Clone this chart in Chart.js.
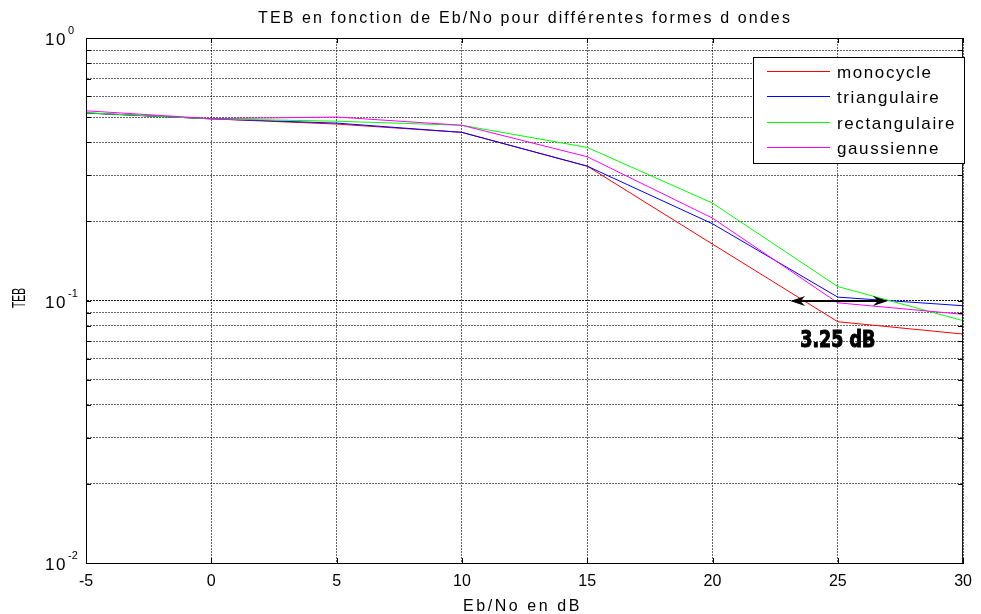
<!DOCTYPE html>
<html>
<head>
<meta charset="utf-8">
<script src="https://cdn.jsdelivr.net/npm/chart.js@4.4.1/dist/chart.umd.min.js"></script>
<style>
  html, body { margin: 0; padding: 0; background: #fff; }
  #wrap { width: 981px; height: 614px; }
</style>
</head>
<body>
<div id="wrap"><canvas id="myChart" width="981" height="614"></canvas></div>
<script>
var chart_title = 'TEB en fonction de Eb/No pour différentes formes d ondes'
var x_title = 'Eb/No en dB'
var y_title = 'TEB'

// Eb/No (dB) and TEB values
var ebno = [-5, 0, 5, 10, 15, 20, 25, 30]
var monocycle = [0.518, 0.492, 0.470, 0.437, 0.325, 0.164, 0.083, 0.0745]
var triangulaire = [0.518, 0.492, 0.474, 0.437, 0.325, 0.196, 0.103, 0.0955]
var rectangulaire = [0.519, 0.492, 0.482, 0.465, 0.383, 0.235, 0.113, 0.0838]
var gaussienne = [0.528, 0.493, 0.500, 0.465, 0.353, 0.206, 0.098, 0.0886]

var series_names = ['monocycle', 'triangulaire', 'rectangulaire', 'gaussienne']
var series_values = [monocycle, triangulaire, rectangulaire, gaussienne]
var series_colors = ['#ff0000', '#0000ff', '#00ff00', '#ff00ff']

var x_ticks = [-5, 0, 5, 10, 15, 20, 25, 30]
var y_grid = [0.01, 0.02, 0.03, 0.04, 0.05, 0.06, 0.07, 0.08, 0.09,
              0.1, 0.2, 0.3, 0.4, 0.5, 0.6, 0.7, 0.8, 0.9, 1]
var y_labels = [1, 0.1, 0.01]
var y_exponents = ['0', '-1', '-2']

// double arrow + note
var arrow_from = 23.1
var arrow_to = 27.0
var arrow_y = 0.1
var note_text = '3.25 dB'
var note_x = 25.0
var note_y = 0.0702

function isDecade(v){
    var l = Math.log10(v)
    return Math.abs(l - Math.round(l)) < 1e-6
}

// draw text, stretched to a given width with letter spacing (or scale)
function fitText(ctx, str, x, y, font, width, align, squeeze){
    ctx.save()
    ctx.font = font
    ctx.textAlign = align || 'left'
    if ('letterSpacing' in ctx) ctx.letterSpacing = '0px'
    var w0 = ctx.measureText(str).width
    if (!squeeze && ('letterSpacing' in ctx) && width > w0) {
        ctx.letterSpacing = ((width - w0) / str.length) + 'px'
        ctx.fillText(str, x, y)
    } else {
        ctx.translate(x, y)
        ctx.scale(width / w0, 1)
        ctx.fillText(str, 0, 0)
        if (squeeze === 'heavy') {
            ctx.lineWidth = 1
            ctx.strokeText(str, 0, 0)
        }
    }
    ctx.restore()
}

function arrowHead(ctx, x, y, dir){
    ctx.beginPath()
    ctx.moveTo(x, y)
    ctx.lineTo(x + dir * 15, y - 5)
    ctx.lineTo(x + dir * 10, y)
    ctx.lineTo(x + dir * 15, y + 5)
    ctx.closePath()
    ctx.fill()
}

var decorPlugin = {
    id: 'decor',
    afterDraw: function(chart){
        var ctx = chart.ctx
        var a = chart.chartArea
        var xs = chart.scales.x
        var ys = chart.scales.y
        ctx.save()
        ctx.fillStyle = '#000'
        ctx.strokeStyle = '#000'
        ctx.lineWidth = 1

        // box
        ctx.strokeRect(a.left + 0.5, a.top + 0.5, a.right - a.left - 1, a.bottom - a.top)

        // inward tick marks
        ctx.beginPath()
        for (var i = 0; i < y_grid.length; i++) {
            var py = Math.round(ys.getPixelForValue(y_grid[i])) + 0.5
            ctx.moveTo(a.left, py); ctx.lineTo(a.left + 5, py)
            ctx.moveTo(a.right, py); ctx.lineTo(a.right - 5, py)
        }
        for (var j = 0; j < x_ticks.length; j++) {
            var px = Math.round(xs.getPixelForValue(x_ticks[j])) + 0.5
            ctx.moveTo(px, a.bottom); ctx.lineTo(px, a.bottom - 5)
            ctx.moveTo(px, a.top); ctx.lineTo(px, a.top + 5)
        }
        ctx.stroke()

        // title and axis titles
        ctx.textBaseline = 'alphabetic'
        fitText(ctx, chart_title, 258, 23, '16px "Liberation Sans", Arial', 534, 'left')
        fitText(ctx, x_title, 463, 611, '16px "Liberation Sans", Arial', 119, 'left')
        ctx.save()
        ctx.translate(25, 298)
        ctx.rotate(-Math.PI / 2)
        fitText(ctx, y_title, 0, 0, '18px "Liberation Sans", Arial', 20, 'center', true)
        ctx.restore()

        // y tick labels 10^n
        for (var k = 0; k < y_labels.length; k++) {
            var ly = ys.getPixelForValue(y_labels[k])
            fitText(ctx, '10', 67, ly + 7, '17px "Liberation Sans", Arial', 22, 'right')
            ctx.font = '11px "Liberation Sans", Arial'
            ctx.textAlign = 'left'
            ctx.fillText(y_exponents[k], 68, ly - 4)
        }

        // legend
        var lx = 753, lt = 57, lw = 211, lh = 106
        ctx.fillStyle = '#fff'
        ctx.fillRect(lx, lt, lw, lh)
        ctx.strokeStyle = '#000'
        ctx.strokeRect(lx + 0.5, lt + 0.5, lw, lh)
        for (var s = 0; s < series_names.length; s++) {
            var ry = Math.round(71 + s * 25.3)
            ctx.fillStyle = series_colors[s]
            ctx.fillRect(767, ry, 63, 1)
            ctx.fillStyle = '#000'
            ctx.save()
            ctx.font = '17px "Liberation Sans", Arial'
            if ('letterSpacing' in ctx) ctx.letterSpacing = '1.6px'
            ctx.textAlign = 'left'
            ctx.fillText(series_names[s], 837, ry + 7)
            ctx.restore()
        }

        // double arrow
        var ax1 = xs.getPixelForValue(arrow_from)
        var ax2 = xs.getPixelForValue(arrow_to)
        var ay = Math.round(ys.getPixelForValue(arrow_y))
        ctx.fillStyle = '#000'
        ctx.strokeStyle = '#000'
        ctx.lineWidth = 2
        ctx.beginPath()
        ctx.moveTo(ax1 + 8, ay); ctx.lineTo(ax2 - 8, ay)
        ctx.stroke()
        arrowHead(ctx, ax1, ay, 1)
        arrowHead(ctx, ax2, ay, -1)

        // note
        var nx = xs.getPixelForValue(note_x)
        var ny = ys.getPixelForValue(note_y)
        ctx.textBaseline = 'middle'
        fitText(ctx, note_text, nx, ny, 'bold 23px "Liberation Sans Narrow", "DejaVu Sans Condensed", "Liberation Sans"', 75, 'center', 'heavy')
        ctx.restore()
    }
}

var datasets = []
for (var i = 0; i < series_names.length; i++) {
    var pts = []
    for (var j = 0; j < ebno.length; j++) {
        pts.push({x: ebno[j], y: series_values[i][j]})
    }
    datasets.push({
        label: series_names[i],
        data: pts,
        borderColor: series_colors[i],
        backgroundColor: series_colors[i],
        borderWidth: 1,
        pointRadius: 0,
        tension: 0,
        fill: false,
        order: series_names.length - i
    })
}

Chart.defaults.font.family = '"Liberation Sans", Arial, sans-serif'
Chart.defaults.color = '#000'

var ctx = document.getElementById('myChart').getContext('2d')
var myChart = new Chart(ctx, {
    type: 'line',
    data: { datasets: datasets },
    options: {
        responsive: false,
        animation: false,
        devicePixelRatio: 1,
        layout: { padding: { top: 38, right: 15, left: 0, bottom: 0 } },
        plugins: {
            legend: { display: false },
            title: { display: false },
            tooltip: { enabled: false }
        },
        scales: {
            x: {
                type: 'linear',
                min: -5,
                max: 30,
                ticks: {
                    stepSize: 5,
                    padding: 9,
                    color: '#000',
                    font: { family: '"Liberation Sans Narrow", "Liberation Sans"', size: 16 },
                    maxRotation: 0
                },
                grid: { color: 'rgba(0,0,0,0.6)', drawTicks: false, lineWidth: 1 },
                border: { display: true, color: '#000', dash: [2, 1] },
                afterFit: function(scale){ scale.height = 51 }
            },
            y: {
                type: 'logarithmic',
                min: 0.01,
                max: 1,
                afterBuildTicks: function(scale){
                    scale.ticks = y_grid.map(function(v){ return {value: v} })
                },
                ticks: {
                    callback: function(){ return '' }
                },
                grid: {
                    drawTicks: false,
                    color: function(c){
                        return isDecade(c.tick.value) ? 'rgba(0,0,0,0.9)' : 'rgba(0,0,0,0.6)'
                    },
                    lineWidth: 1
                },
                border: { display: true, color: '#000', dash: [2, 1] },
                afterFit: function(scale){ scale.width = 86 }
            }
        }
    },
    plugins: [decorPlugin]
})
</script>
</body>
</html>
